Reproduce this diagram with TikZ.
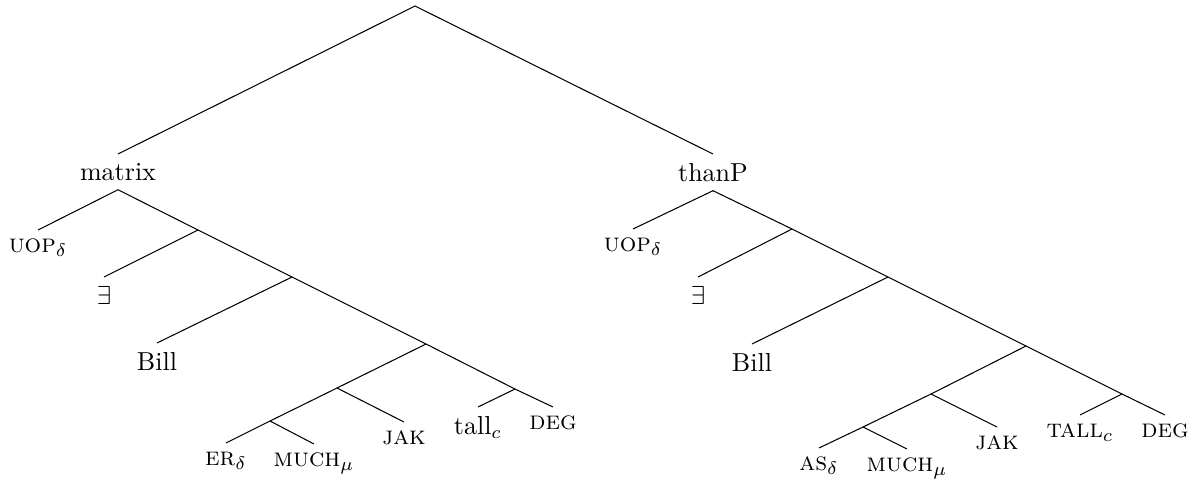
\documentclass[tikz,border=0pt]{standalone}
\begin{document}
\begin{tikzpicture}[x=0.3846pt,y=-0.3846pt,
  lab/.style={anchor=north,inner sep=3.33pt},
  edge/.style={line width=0.4pt}]
\useasboundingbox (0,0) rectangle (1199,483);
% root
\coordinate (root) at (415,6);
% left tree
\node[lab] (matrix) at (118,154) {matrix};
\node[lab] (luop) at (38,230) {\textsc{uop}$_\delta$};
\coordinate (lx1) at (198,230);
\node[lab] (lex) at (104,277) {$\exists$};
\coordinate (lx2) at (292,277);
\node[lab] (lbill) at (157,343) {Bill};
\coordinate (lx3) at (426,344);
\coordinate (lx4) at (337,388);
\coordinate (lx6) at (515,389);
\coordinate (lx5) at (270,421);
\node[lab] (ljak) at (404,422) {\textsc{jak}};
\node[lab] (ler) at (226,443) {\textsc{er}$_\delta$};
\node[lab] (lmuch) at (314,444) {\textsc{much}$_\mu$};
\node[lab] (ltall) at (478,407) {tall$_c$};
\node[lab] (ldeg) at (553,407) {\textsc{deg}};
% right tree
\node[lab] (thanp) at (713,154) {thanP};
\node[lab] (ruop) at (633,229) {\textsc{uop}$_\delta$};
\coordinate (rx1) at (792,229);
\node[lab] (rex) at (698,277) {$\exists$};
\coordinate (rx2) at (888,277);
\node[lab] (rbill) at (752,344) {Bill};
\coordinate (rx3) at (1026,346);
\coordinate (rx4) at (931,394);
\coordinate (rx6) at (1122,394);
\coordinate (rx5) at (863,427);
\node[lab] (rjak) at (997,427) {\textsc{jak}};
\node[lab] (ras) at (819,448) {\textsc{as}$_\delta$};
\node[lab] (rmuch) at (907,449) {\textsc{much}$_\mu$};
\node[lab] (rtall) at (1080,415) {\textsc{tall}$_c$};
\node[lab] (rdeg) at (1165,415) {\textsc{deg}};
% edges
\draw[edge] (matrix.north) -- (root) -- (thanp.north);
\draw[edge] (luop.north) -- (matrix.south) -- (lx1);
\draw[edge] (lex.north) -- (lx1) -- (lx2);
\draw[edge] (lbill.north) -- (lx2) -- (lx3);
\draw[edge] (lx4) -- (lx3) -- (lx6);
\draw[edge] (lx5) -- (lx4) -- (ljak.north);
\draw[edge] (ler.north) -- (lx5) -- (lmuch.north);
\draw[edge] (ltall.north) -- (lx6) -- (ldeg.north);
\draw[edge] (ruop.north) -- (thanp.south) -- (rx1);
\draw[edge] (rex.north) -- (rx1) -- (rx2);
\draw[edge] (rbill.north) -- (rx2) -- (rx3);
\draw[edge] (rx4) -- (rx3) -- (rx6);
\draw[edge] (rx5) -- (rx4) -- (rjak.north);
\draw[edge] (ras.north) -- (rx5) -- (rmuch.north);
\draw[edge] (rtall.north) -- (rx6) -- (rdeg.north);
\end{tikzpicture}
\end{document}
